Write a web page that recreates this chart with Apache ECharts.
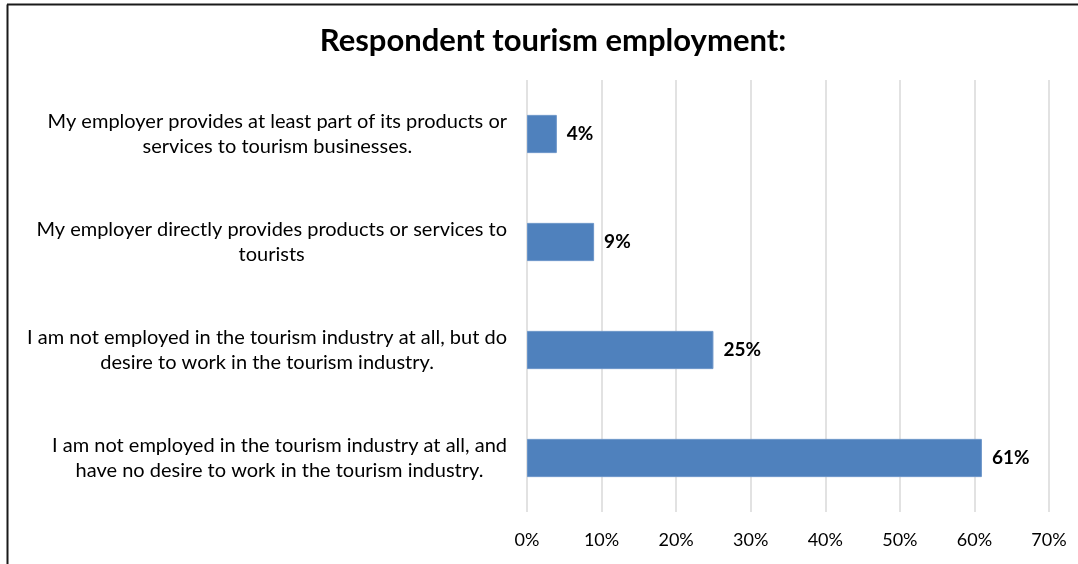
<!DOCTYPE html>
<html>
<head>
<meta charset="utf-8">
<script src="https://cdn.jsdelivr.net/npm/echarts@6/dist/echarts.min.js"></script>
<style>
  html, body { margin: 0; padding: 0; background: #fff; }
  #chart { width: 1078px; height: 564px; }
</style>
</head>
<body>
<div id="chart"></div>
<script>
// Survey answers, listed top to bottom, each split into its display lines
const categories = [
  ['My employer provides at least part of its products or', 'services to tourism businesses.'],
  ['My employer directly provides products or services to', 'tourists'],
  ['I am not employed in the tourism industry at all, but do', 'desire to work in the tourism industry.'],
  ['I am not employed in the tourism industry at all, and', 'have no desire to work in the tourism industry.']
];
// Share of respondents (%)
const shares = [4, 9, 25, 61];
// Value axis tick marks (%)
const ticks = [0, 10, 20, 30, 40, 50, 60, 70];

const FONT = 'Lato, "Open Sans", sans-serif';
const chart = echarts.init(document.getElementById('chart'), null, { renderer: 'canvas' });

chart.setOption({
  backgroundColor: '#ffffff',
  animation: false,
  title: {
    text: 'Respondent tourism employment:',
    left: 548,
    top: 20,
    textAlign: 'center',
    textStyle: { fontFamily: FONT, fontSize: 31, fontWeight: 'bold', color: '#000' }
  },
  graphic: [
    { type: 'line', shape: { x1: 7.5, y1: 4.5, x2: 7.5, y2: 570 }, style: { stroke: '#1a1a1a', lineWidth: 2 } },
    { type: 'line', shape: { x1: 7, y1: 4.5, x2: 1090, y2: 4.5 }, style: { stroke: '#1a1a1a', lineWidth: 2 } }
  ],
  grid: { left: 527, right: 29, top: 80, bottom: 52 },
  xAxis: {
    type: 'value',
    min: ticks[0],
    max: ticks[ticks.length - 1],
    interval: ticks[1] - ticks[0],
    axisLine: { show: false },
    axisTick: { show: false },
    splitLine: { show: true, lineStyle: { color: '#d9d9d9', width: 1.5 } },
    axisLabel: {
      margin: 19,
      formatter: '{value}%',
      fontFamily: FONT, fontSize: 18, color: '#000'
    }
  },
  yAxis: {
    type: 'category',
    inverse: true,
    data: categories.map(c => c.join('\n')),
    axisLine: { show: false },
    axisTick: { show: false },
    axisLabel: {
      margin: 20,
      align: 'right',
      lineHeight: 25,
      formatter: v => v.split('\n').map(s => '{c|' + s + '}').join('\n'),
      rich: {
        c: { align: 'center', fontFamily: FONT, fontSize: 20, lineHeight: 25, color: '#000' }
      }
    }
  },
  series: [{
    type: 'bar',
    data: shares,
    barCategoryGap: '64.6%',
    itemStyle: { color: '#4f81bd', borderColor: '#6a94c8', borderWidth: 1 },
    label: {
      show: true,
      position: 'right',
      distance: 10,
      formatter: p => p.value + '%',
      fontFamily: FONT, fontSize: 19, fontWeight: 'bold', color: '#000'
    }
  }]
});
</script>
</body>
</html>
